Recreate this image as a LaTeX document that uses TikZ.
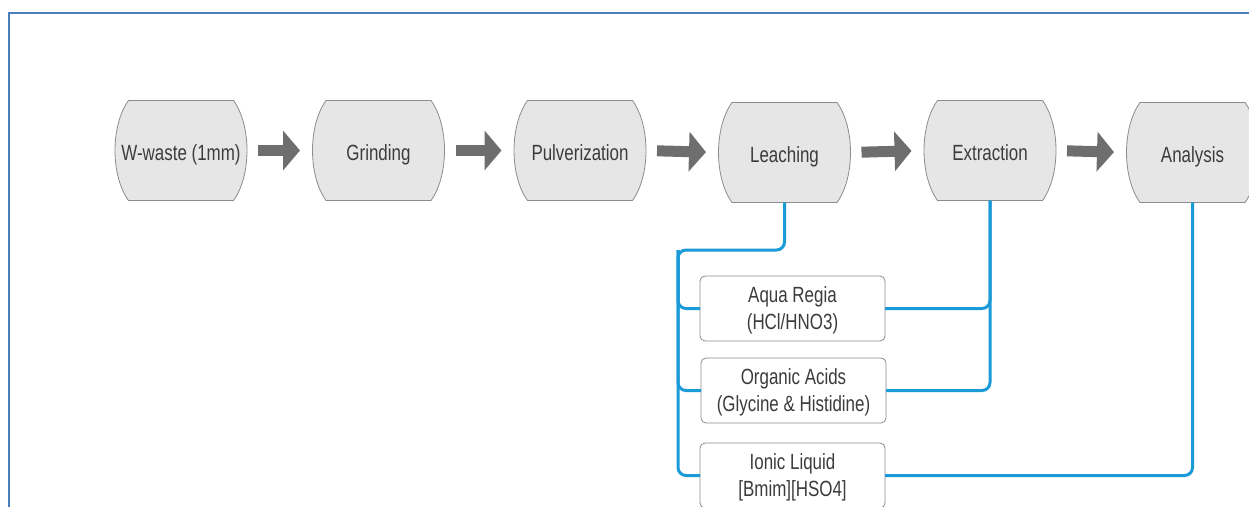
\documentclass[tikz,border=0pt]{standalone}
\usepackage{fontspec}
\setmainfont[FakeStretch=0.77]{Liberation Sans}
\usetikzlibrary{arrows.meta}
\definecolor{framecol}{HTML}{4A7EBB}
\definecolor{conncol}{HTML}{1A9AD6}
\definecolor{arrowcol}{HTML}{6E6E6E}
\definecolor{boxfill}{HTML}{E6E6E6}
\definecolor{boxline}{HTML}{8C8C8C}
\definecolor{txtcol}{HTML}{3C3C3C}
\makeatletter
\pgfdeclareshape{processbox}{
  \inheritsavedanchors[from=rectangle]
  \inheritanchorborder[from=rectangle]
  \inheritanchor[from=rectangle]{center}
  \inheritanchor[from=rectangle]{north}
  \inheritanchor[from=rectangle]{south}
  \inheritanchor[from=rectangle]{east}
  \inheritanchor[from=rectangle]{west}
  \inheritanchor[from=rectangle]{north east}
  \inheritanchor[from=rectangle]{north west}
  \inheritanchor[from=rectangle]{south east}
  \inheritanchor[from=rectangle]{south west}
  \inheritanchor[from=rectangle]{text}
  \inheritanchor[from=rectangle]{base}
  \backgroundpath{%
    \southwest \edef\prXa{\the\pgf@x}\edef\prYa{\the\pgf@y}%
    \northeast \edef\prXb{\the\pgf@x}\edef\prYb{\the\pgf@y}%
    \pgfpathmoveto{\pgfpoint{\prXa+13pt}{\prYb}}%
    \pgfpathlineto{\pgfpoint{\prXb-13pt}{\prYb}}%
    \pgfpathcurveto{\pgfpoint{\prXb+5pt}{\prYb-25pt}}{\pgfpoint{\prXb+5pt}{\prYa+25pt}}{\pgfpoint{\prXb-13pt}{\prYa}}%
    \pgfpathlineto{\pgfpoint{\prXa+13pt}{\prYa}}%
    \pgfpathcurveto{\pgfpoint{\prXa-5pt}{\prYa+25pt}}{\pgfpoint{\prXa-5pt}{\prYb-25pt}}{\pgfpoint{\prXa+13pt}{\prYb}}%
    \pgfpathclose
  }
}
\makeatother
\tikzset{
  proc/.style={processbox, draw=boxline, fill=boxfill, line width=0.8pt,
    minimum width=131pt, minimum height=100pt, inner sep=0pt, outer sep=0pt,
    text height=20pt, text depth=0.2pt,
    text=txtcol, font=\fontsize{22}{27}\selectfont},
  option/.style={rectangle, rounded corners=5pt, draw=boxline, fill=white, line width=0.8pt,
    minimum width=185pt, minimum height=65pt, inner sep=0pt, outer sep=0pt,
    text depth=-1pt,
    align=center, text=txtcol, font=\fontsize{22}{27}\selectfont},
  flow/.style={draw=arrowcol, line width=11pt,
    -{Triangle[length=17pt,width=39pt]}, shorten <=11.5pt, shorten >=13pt},
  conn/.style={draw=conncol, line width=3pt, rounded corners=8pt},
  frame/.style={draw=framecol, line width=2.5pt}
}
\begin{document}
\begin{tikzpicture}[x=1pt,y=-1pt]
\useasboundingbox (0,0) rectangle (1249,506);
\draw[frame] (9,510) -- (9,13) -- (1260,13);

\node[proc] (ww) at (181,150.5) {W-waste (1mm)};
\node[proc] (gr) at (378.5,150.5) {Grinding};
\node[proc] (pu) at (580,150.5) {Pulverization};
\node[proc] (le) at (784.5,152.5) {Leaching};
\node[proc] (ex) at (990,150.5) {Extraction};
\node[proc] (an) at (1192.5,152.5) {Analysis};

\draw[flow] (ww.east) -- (gr.west);
\draw[flow] (gr.east) -- (pu.west);
\draw[flow] (pu.east) -- (le.west);
\draw[flow] (le.east) -- (ex.west);
\draw[flow] (ex.east) -- (an.west);

\node[option] (aq) at (792.5,308.5) {Aqua Regia\\(HCl/HNO3)};
\node[option] (oa) at (793.5,390.5) {Organic Acids\\(Glycine \& Histidine)};
\node[option] (il) at (792.5,475.5) {Ionic Liquid\\{[}Bmim{]}{[}HSO4{]}};

\coordinate (jl) at (678,250);
\draw[conn] (le.south) |- (jl) |- (il.west);
\draw[conn] (jl) |- (aq.west);
\draw[conn] (jl) |- (oa.west);
\draw[conn] (ex.south) |- (aq.east);
\draw[conn] (ex.south) |- (oa.east);
\draw[conn] (an.south) |- (il.east);
\end{tikzpicture}
\end{document}
